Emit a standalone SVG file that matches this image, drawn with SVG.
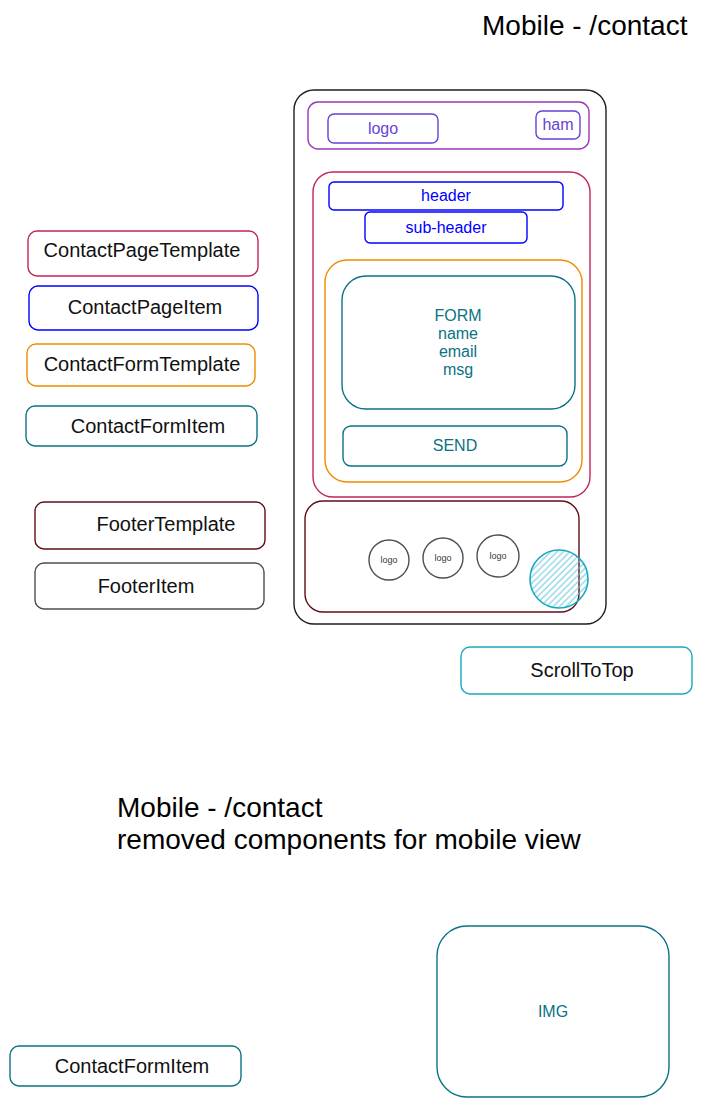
<svg xmlns="http://www.w3.org/2000/svg" width="702" height="1107" viewBox="0 0 702 1107">
  <style>
    text { font-family: "Liberation Sans", Arial, sans-serif; }
    .box { fill: none; stroke-width: 1.4; stroke-linejoin: round; }
    .lbl { font-size: 20px; fill: #111111; text-anchor: middle; }
    .mid { font-size: 16px; text-anchor: middle; }
    .title { font-size: 28px; fill: #000; }
    .crimson { stroke: #c2255c; }
    .blue { stroke: #0000ff; }
    .orange { stroke: #f08c00; }
    .teal { stroke: #0b7285; }
    .cyan { stroke: #15aabf; }
    .violet { stroke: #9c36b5; }
    .indigo { stroke: #6741d9; }
    .darkred { stroke: #5f0f17; }
    .gray { stroke: #495057; }
  </style>
  <defs>
    <pattern id="hatch" width="4.5" height="4.5" patternUnits="userSpaceOnUse" patternTransform="rotate(45)">
      <line x1="1" y1="0" x2="1" y2="4.5" stroke="#66c6d6" stroke-width="1"/>
    </pattern>
  </defs>
  <rect width="702" height="1107" fill="#ffffff"/>

  <text id="title-top" class="title" x="482" y="35">Mobile - /contact</text>

  <g id="phone">
    <rect class="box" x="294" y="90" width="312" height="534" rx="20" stroke="#1e1e1e"/>
  </g>

  <g id="navbar">
    <rect class="box violet" x="308" y="102" width="281" height="47" rx="10"/>
  </g>
  <g id="nav-logo">
    <rect class="box indigo" x="328" y="114" width="110" height="29" rx="6"/>
    <text class="mid" x="383" y="134" fill="#6741d9">logo</text>
  </g>
  <g id="nav-ham">
    <rect class="box indigo" x="536" y="111" width="44" height="28" rx="6"/>
    <text class="mid" x="558" y="130" fill="#6741d9">ham</text>
  </g>

  <g id="contact-page">
    <rect class="box crimson" x="313" y="172" width="277" height="325" rx="20"/>
  </g>
  <g id="header">
    <rect class="box blue" x="329" y="182" width="234" height="28" rx="5"/>
    <text class="mid" x="446" y="201" fill="#0000ff">header</text>
  </g>
  <g id="sub-header">
    <rect class="box blue" x="365" y="212" width="162" height="31" rx="5"/>
    <text class="mid" x="446" y="233" fill="#0000ff">sub-header</text>
  </g>

  <g id="contact-form">
    <rect class="box orange" x="325" y="260" width="257" height="222" rx="22"/>
  </g>
  <g id="form">
    <rect class="box teal" x="342" y="276" width="233" height="133" rx="24"/>
    <text class="mid" fill="#0b7285"><tspan x="458" y="321">FORM</tspan><tspan x="458" y="339">name</tspan><tspan x="458" y="357">email</tspan><tspan x="458" y="375">msg</tspan></text>
  </g>
  <g id="send">
    <rect class="box teal" x="343" y="426" width="224" height="40" rx="8"/>
    <text class="mid" x="455" y="451" fill="#0b7285">SEND</text>
  </g>

  <g id="footer">
    <rect class="box darkred" x="305" y="501" width="274" height="111" rx="18"/>
  </g>
  <g id="footer-logo-1">
    <circle class="box gray" cx="389" cy="560" r="20"/>
    <text x="389" y="563" font-size="9" fill="#343a40" text-anchor="middle">logo</text>
  </g>
  <g id="footer-logo-2">
    <circle class="box gray" cx="443" cy="558" r="20"/>
    <text x="443" y="561" font-size="9" fill="#343a40" text-anchor="middle">logo</text>
  </g>
  <g id="footer-logo-3">
    <circle class="box gray" cx="498" cy="556" r="21"/>
    <text x="498" y="559" font-size="9" fill="#343a40" text-anchor="middle">logo</text>
  </g>
  <g id="scroll-button">
    <circle cx="559" cy="579" r="29" fill="url(#hatch)" stroke="#15aabf" stroke-width="1.6"/>
  </g>

  <g id="legend-contact-page-template">
    <rect class="box crimson" x="28" y="231" width="230" height="45" rx="9"/>
    <text class="lbl" x="142" y="257">ContactPageTemplate</text>
  </g>
  <g id="legend-contact-page-item">
    <rect class="box blue" x="29" y="286" width="229" height="44" rx="9"/>
    <text class="lbl" x="145" y="314">ContactPageItem</text>
  </g>
  <g id="legend-contact-form-template">
    <rect class="box orange" x="27" y="344" width="228" height="42" rx="9"/>
    <text class="lbl" x="142" y="371">ContactFormTemplate</text>
  </g>
  <g id="legend-contact-form-item">
    <rect class="box teal" x="26" y="406" width="231" height="40" rx="9"/>
    <text class="lbl" x="148" y="433">ContactFormItem</text>
  </g>
  <g id="legend-footer-template">
    <rect class="box darkred" x="35" y="502" width="230" height="47" rx="9"/>
    <text class="lbl" x="166" y="531">FooterTemplate</text>
  </g>
  <g id="legend-footer-item">
    <rect class="box gray" x="35" y="563" width="229" height="46" rx="9"/>
    <text class="lbl" x="146" y="593">FooterItem</text>
  </g>
  <g id="legend-scroll-to-top">
    <rect class="box cyan" x="461" y="647" width="231" height="47" rx="9"/>
    <text class="lbl" x="582" y="677">ScrollToTop</text>
  </g>

  <text id="title-removed" class="title"><tspan x="117" y="817">Mobile - /contact</tspan><tspan x="117" y="849">removed components for mobile view</tspan></text>

  <g id="img">
    <rect class="box teal" x="437" y="926" width="232" height="171" rx="30"/>
    <text class="mid" x="553" y="1017" fill="#0b7285">IMG</text>
  </g>
  <g id="removed-contact-form-item">
    <rect class="box teal" x="10" y="1046" width="231" height="40" rx="9"/>
    <text class="lbl" x="132" y="1073">ContactFormItem</text>
  </g>

  <g id="connectors"></g>
</svg>
